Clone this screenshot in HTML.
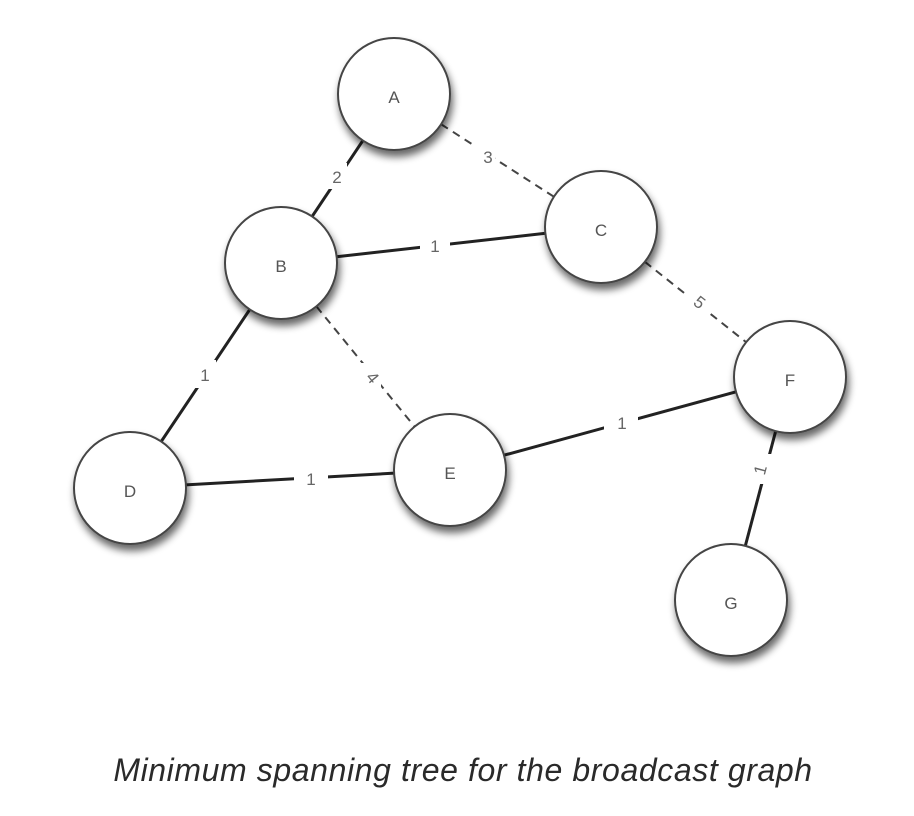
<!DOCTYPE html>
<html><head><style>
html,body{margin:0;padding:0;background:#fff;width:914px;height:816px;overflow:hidden}
</style></head><body>
<svg width="914" height="816" viewBox="0 0 914 816" xmlns="http://www.w3.org/2000/svg">
<defs>
<filter id="sh" x="-30%" y="-30%" width="170%" height="170%">
<feGaussianBlur in="SourceAlpha" stdDeviation="4"/>
<feOffset dx="2" dy="6"/>
<feComponentTransfer><feFuncA type="linear" slope="0.6"/></feComponentTransfer>
<feMerge><feMergeNode/><feMergeNode in="SourceGraphic"/></feMerge>
</filter>
</defs>
<g stroke="#222" stroke-width="3" fill="none">
<line x1="394" y1="94" x2="281" y2="263"/>
<line x1="281" y1="263" x2="601" y2="227"/>
<line x1="281" y1="263" x2="130" y2="488"/>
<line x1="130" y1="488" x2="450" y2="470"/>
<line x1="450" y1="470" x2="790" y2="377"/>
<line x1="790" y1="377" x2="731" y2="600"/>
</g>
<g stroke="#444" stroke-width="2" stroke-dasharray="8,6" fill="none">
<line x1="394" y1="94" x2="601" y2="227"/>
<line x1="601" y1="227" x2="790" y2="377"/>
<line x1="281" y1="263" x2="450" y2="470"/>
</g>
<g fill="#fff">
<rect x="327" y="163" width="20" height="26"/>
<rect x="420" y="234" width="30" height="26"/>
<rect x="473" y="145" width="22" height="24"/>
<rect x="686" y="291" width="22" height="24"/>
<rect x="194" y="360" width="22" height="28"/>
<rect x="359" y="363" width="22" height="26"/>
<rect x="294" y="466" width="34" height="26"/>
<rect x="604" y="410" width="34" height="26"/>
<rect x="750" y="454" width="22" height="30"/>
</g>
<g fill="#666" font-family="Liberation Sans, sans-serif" font-size="17" text-anchor="middle">
<text x="337" y="183">2</text>
<text x="435" y="252">1</text>
<text x="488" y="163">3</text>
<text x="699" y="308" transform="rotate(38 699 303)">5</text>
<text x="205" y="381">1</text>
<text x="372" y="383" transform="rotate(50 372 378)">4</text>
<text x="311" y="485">1</text>
<text x="622" y="429">1</text>
<text x="761" y="475" transform="rotate(-75 761 470)">1</text>
</g>
<g fill="#fff" stroke="#444" stroke-width="2" filter="url(#sh)">
<circle cx="394" cy="94" r="56"/>
<circle cx="281" cy="263" r="56"/>
<circle cx="601" cy="227" r="56"/>
<circle cx="130" cy="488" r="56"/>
<circle cx="450" cy="470" r="56"/>
<circle cx="790" cy="377" r="56"/>
<circle cx="731" cy="600" r="56"/>
</g>
<g fill="#555" font-family="Liberation Sans, sans-serif" font-size="17" text-anchor="middle">
<text x="394" y="103">A</text>
<text x="281" y="272">B</text>
<text x="601" y="236">C</text>
<text x="130" y="497">D</text>
<text x="450" y="479">E</text>
<text x="790" y="386">F</text>
<text x="731" y="609">G</text>
</g>
<text x="463" y="781" text-anchor="middle" font-family="Liberation Sans, sans-serif" font-style="italic" font-size="32" letter-spacing="0.6" fill="#2a2a2a">Minimum spanning tree for the broadcast graph</text>
</svg>
</body></html>
